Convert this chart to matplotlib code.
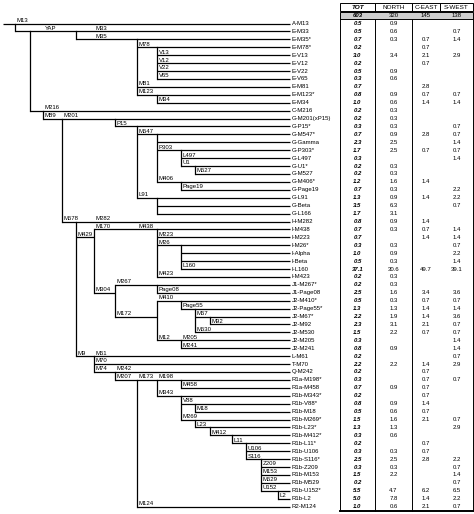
import matplotlib.pyplot as plt
from matplotlib.patches import Rectangle

plt.rcParams['font.family'] = ['Liberation Sans', 'DejaVu Sans']

# ---- tree: internal nodes (id, parent, depth level, row, mutation, label level)
nodes = [
    ("root", None, 1, 0, "M13", 1),
    ("CT", "root", 2, 1, "", 2),
    ("YAP", "CT", 5, 1, "YAP", 3),
    ("M35", "YAP", 8, 2, "M35", 6),
    ("M78", "M35", 9, 3, "M78", 8),
    ("M123", "M35", 9, 9, "M123", 8),
    ("CF", "CT", 3, 11, "", 3),
    ("F", "CF", 4, 12, "M89", 3),
    ("G", "F", 7, 12, "M201", 4),
    ("P15", "G", 8, 13, "P15", 7),
    ("M547", "P15", 9, 14, "M547", 8),
    ("P303", "M547", 10, 16, "P303", 9),
    ("U1", "P303", 11, 18, "U1", 10),
    ("M406", "M547", 10, 20, "M406", 9),
    ("L91", "P15", 9, 22, "L91", 8),
    ("M578", "F", 5, 25, "M578", 4),
    ("M429", "M578", 6, 27, "M429", 5),
    ("M170", "M429", 9, 26, "M170", 6),
    ("M26", "M170", 10, 28, "M26", 9),
    ("M304", "M429", 7, 34, "M304", 6),
    ("J1", "M304", 9, 33, "M267", 7),
    ("J2", "M304", 9, 37, "M172", 7),
    ("M410", "J2", 10, 35, "M410", 9),
    ("Page55", "M410", 11, 36, "Page55", 10),
    ("M67", "Page55", 12, 37, "M67", 11),
    ("M12", "J2", 10, 40, "M12", 9),
    ("M9", "M578", 6, 42, "M9", 5),
    ("M74", "M9", 7, 44, "M74", 6),
    ("M207", "M74", 8, 45, "M207", 7),
    ("M173", "M207", 9, 45, "M173", 8),
    ("M198", "M173", 10, 45, "M198", 9),
    ("M343", "M173", 10, 47, "M343", 9),
    ("V88", "M343", 11, 48, "V88", 10),
    ("M269", "M343", 11, 50, "M269", 10),
    ("L23", "M269", 12, 51, "L23", 11),
    ("M412", "L23", 13, 52, "M412", 12),
    ("L11", "M412", 14, 53, "L11", 13),
    ("S116", "L11", 15, 55, "S116", 14),
    ("U152", "S116", 16, 59, "U152", 15),
]

# ---- leaves, top to bottom: (name, parent, mutation, label level)
leaves = [
    ("A-M13", "root", "", 0), ("E-M33", "YAP", "M33", 6),
    ("E-M35*", "M35", "", 0), ("E-M78*", "M78", "", 0),
    ("E-V13", "M78", "V13", 9), ("E-V12", "M78", "V12", 9),
    ("E-V22", "M78", "V22", 9), ("E-V65", "M78", "V65", 9),
    ("E-M81", "M35", "M81", 8), ("E-M123*", "M123", "", 0),
    ("E-M34", "M123", "M34", 9), ("C-M216", "CF", "M216", 3),
    ("G-M201(xP15)", "G", "", 0), ("G-P15*", "P15", "", 0),
    ("G-M547*", "M547", "", 0), ("G-Gamma", "M547", "", 0),
    ("G-P303*", "P303", "", 0), ("G-L497", "P303", "L497", 10),
    ("G-U1*", "U1", "", 0), ("G-M527", "U1", "M527", 11),
    ("G-M406*", "M406", "", 0), ("G-Page19", "M406", "Page19", 10),
    ("G-L91", "L91", "", 0), ("G-Beta", "L91", "", 0),
    ("G-L166", "L91", "", 0), ("H-M282", "M578", "M282", 6),
    ("I-M438", "M170", "M438", 8), ("I-M223", "M170", "M223", 9),
    ("I-M26*", "M26", "", 0), ("I-Alpha", "M26", "", 0),
    ("I-Beta", "M26", "", 0), ("I-L160", "M26", "L160", 10),
    ("I-M423", "M170", "M423", 9), ("J1-M267*", "J1", "", 0),
    ("J1-Page08", "J1", "Page08", 9), ("J2-M410*", "M410", "", 0),
    ("J2-Page55*", "Page55", "", 0), ("J2-M67*", "M67", "", 0),
    ("J2-M92", "M67", "M92", 12), ("J2-M530", "Page55", "M530", 11),
    ("J2-M205", "M12", "M205", 10), ("J2-M241", "M12", "M241", 10),
    ("L-M61", "M9", "M61", 6), ("T-M70", "M9", "M70", 6),
    ("Q-M242", "M74", "M242", 7), ("R1a-M198*", "M198", "", 0),
    ("R1a-M458", "M198", "M458", 10), ("R1b-M343*", "M343", "", 0),
    ("R1b-V88*", "V88", "", 0), ("R1b-M18", "V88", "M18", 11),
    ("R1b-M269*", "M269", "", 0), ("R1b-L23*", "L23", "", 0),
    ("R1b-M412*", "M412", "", 0), ("R1b-L11*", "L11", "", 0),
    ("R1b-U106", "L11", "U106", 14), ("R1b-S116*", "S116", "", 0),
    ("R1b-Z209", "S116", "Z209", 15), ("R1b-M153", "S116", "M153", 15),
    ("R1b-M529", "S116", "M529", 15), ("R1b-U152*", "U152", "", 0),
    ("R1b-L2", "U152", "L2", 16), ("R2-M124", "M207", "M124", 8),
]

# ---- table (percent), None = empty cell
columns = ["TOT", "NORTH", "C-EAST", "S-WEST"]
totals = ["603", "320", "145", "138"]
tot = [0.5, 0.5, 0.7, 0.2, 3.0, 0.2, 0.5, 0.3, 0.7, 0.8, 1.0, 0.2, 0.2, 0.3,
       0.7, 2.3, 1.7, 0.3, 0.2, 0.2, 1.2, 0.7, 1.3, 3.5, 1.7, 0.8, 0.7, 0.7,
       0.3, 1.0, 0.5, 37.1, 0.2, 0.2, 2.5, 0.5, 1.3, 2.2, 2.3, 1.5, 0.3, 0.8,
       0.2, 2.2, 0.2, 0.3, 0.7, 0.2, 0.8, 0.5, 1.5, 1.3, 0.3, 0.2, 0.3, 2.5,
       0.3, 1.5, 0.2, 5.5, 5.0, 1.0]
north = [0.9, 0.6, 0.3, None, 3.4, None, 0.9, 0.6, None, 0.9, 0.6, 0.3, 0.3,
         0.3, 0.9, 2.5, 2.5, None, 0.3, 0.3, 1.6, 0.3, 0.9, 6.3, 3.1, 0.9,
         0.3, None, 0.3, 0.9, 0.3, 30.6, 0.3, 0.3, 1.6, 0.3, 1.3, 1.9, 3.1,
         2.2, None, 0.9, None, 2.2, None, None, 0.9, None, 0.9, 0.6, 1.6, 1.3,
         0.6, None, 0.3, 2.5, 0.3, 2.2, None, 4.7, 7.8, 0.6]
ceast = [None, None, 0.7, 0.7, 2.1, 0.7, None, None, 2.8, 0.7, 1.4, None, None,
         None, 2.8, None, 0.7, None, None, None, 1.4, None, 1.4, None, None,
         1.4, 0.7, 1.4, None, None, None, 49.7, None, None, 3.4, 0.7, 1.4, 1.4,
         2.1, 0.7, None, None, None, 1.4, 0.7, 0.7, 0.7, 0.7, 1.4, 0.7, 2.1,
         None, None, 0.7, 0.7, 2.8, None, None, None, 6.2, 1.4, 2.1]
swest = [None, 0.7, 1.4, None, 2.9, None, None, None, None, 0.7, 1.4, None,
         None, 0.7, 0.7, 1.4, 0.7, 1.4, None, None, None, 2.2, 2.2, 0.7, None,
         None, 1.4, 1.4, 0.7, 2.2, 1.4, 39.1, None, None, 3.6, 0.7, 1.4, 3.6,
         0.7, 0.7, 1.4, 1.4, 0.7, 2.9, None, 0.7, None, None, None, None, 0.7,
         2.9, None, None, None, 2.2, 0.7, 1.4, 0.7, 6.5, 2.2, 0.7]

# ---- layout (pixels)
LEVEL_X = [3, 15, 30, 43, 62, 76, 94, 115, 137, 157, 181, 195, 210, 232,
           246, 261, 278]
LEAF_END = 290
ROW0, ROW_H = 23.5, 7.92
COL_EDGES = [340, 375, 412, 440, 473]
FS = 4.3
LW = 0.9


def row_y(r):
    return ROW0 + ROW_H * r


fig = plt.figure(figsize=(4.74, 5.14), dpi=100)
ax = fig.add_axes([0, 0, 1, 1])
ax.set_xlim(0, 474)
ax.set_ylim(514, 0)
ax.axis("off")

node_x = {}
for nid, par, lev, row, mut, mlev in nodes:
    node_x[nid] = LEVEL_X[lev]

kid_rows = {}
for nid, par, lev, row, mut, mlev in nodes:
    if par is not None:
        kid_rows.setdefault(par, []).append(row)
for i, (name, par, mut, mlev) in enumerate(leaves):
    kid_rows.setdefault(par, []).append(i)

# horizontal branches of internal nodes
for nid, par, lev, row, mut, mlev in nodes:
    x0 = LEVEL_X[0] if par is None else node_x[par]
    y = row_y(row)
    ax.plot([x0, node_x[nid]], [y, y], color="black", lw=LW,
            solid_capstyle="butt")
    if mut:
        ax.text(LEVEL_X[mlev] + 2, y - 0.6, mut, fontsize=FS, va="bottom",
                ha="left")

# vertical connectors
for nid, par, lev, row, mut, mlev in nodes:
    rows = kid_rows[nid] + [row]
    ax.plot([node_x[nid], node_x[nid]], [row_y(min(rows)), row_y(max(rows))],
            color="black", lw=LW, solid_capstyle="projecting")

# leaf branches and names
for i, (name, par, mut, mlev) in enumerate(leaves):
    y = row_y(i)
    ax.plot([node_x[par], LEAF_END], [y, y], color="black", lw=LW,
            solid_capstyle="butt")
    ax.text(LEAF_END + 2, y, name, fontsize=FS, va="center", ha="left")
    if mut:
        ax.text(LEVEL_X[mlev] + 2, y - 0.6, mut, fontsize=FS, va="bottom",
                ha="left")

# ---- table
centers = [(COL_EDGES[k] + COL_EDGES[k + 1]) / 2 for k in range(4)]
hy0, hy1 = row_y(-2) - 4.2, row_y(-2) + 3.4
for k, col in enumerate(columns):
    ax.add_patch(Rectangle((COL_EDGES[k], hy0), COL_EDGES[k + 1] - COL_EDGES[k],
                           hy1 - hy0, fill=False, lw=0.7, ec="black"))
    if k == 0:
        ax.text(centers[k], row_y(-2), col, fontsize=4.6, ha="center",
                va="center", style="italic", weight="bold")
    else:
        ax.text(centers[k], row_y(-2), col, fontsize=4.6, ha="center",
                va="center")

ty0, ty1 = row_y(-1) - 3.6, row_y(-1) + 3.6
ax.add_patch(Rectangle((COL_EDGES[0], ty0), COL_EDGES[4] - COL_EDGES[0],
                       ty1 - ty0, fc="#cfcfcf", ec="black", lw=0.7))
for k, t in enumerate(totals):
    if k == 0:
        ax.text(centers[k], row_y(-1), t, fontsize=FS, ha="center",
                va="center", style="italic", weight="bold")
    else:
        ax.text(centers[k], row_y(-1), t, fontsize=FS, ha="center",
                va="center")

body_top = ty1
body_bot = row_y(len(leaves) - 1) + 4.2
for xe in [COL_EDGES[0], COL_EDGES[1], COL_EDGES[2], COL_EDGES[4]]:
    ax.plot([xe, xe], [body_top, body_bot], color="black", lw=0.7)
ax.plot([COL_EDGES[0], COL_EDGES[4]], [body_bot, body_bot], color="black",
        lw=1.4)

for i in range(len(leaves)):
    y = row_y(i)
    vals = [tot[i], north[i], ceast[i], swest[i]]
    for k, v in enumerate(vals):
        if v is None:
            continue
        if k == 0:
            ax.text(centers[k], y, "%.1f" % v, fontsize=FS, ha="center",
                    va="center", style="italic", weight="bold")
        else:
            ax.text(centers[k], y, "%.1f" % v, fontsize=FS, ha="center",
                    va="center")

fig.savefig("out.png", dpi=100)
